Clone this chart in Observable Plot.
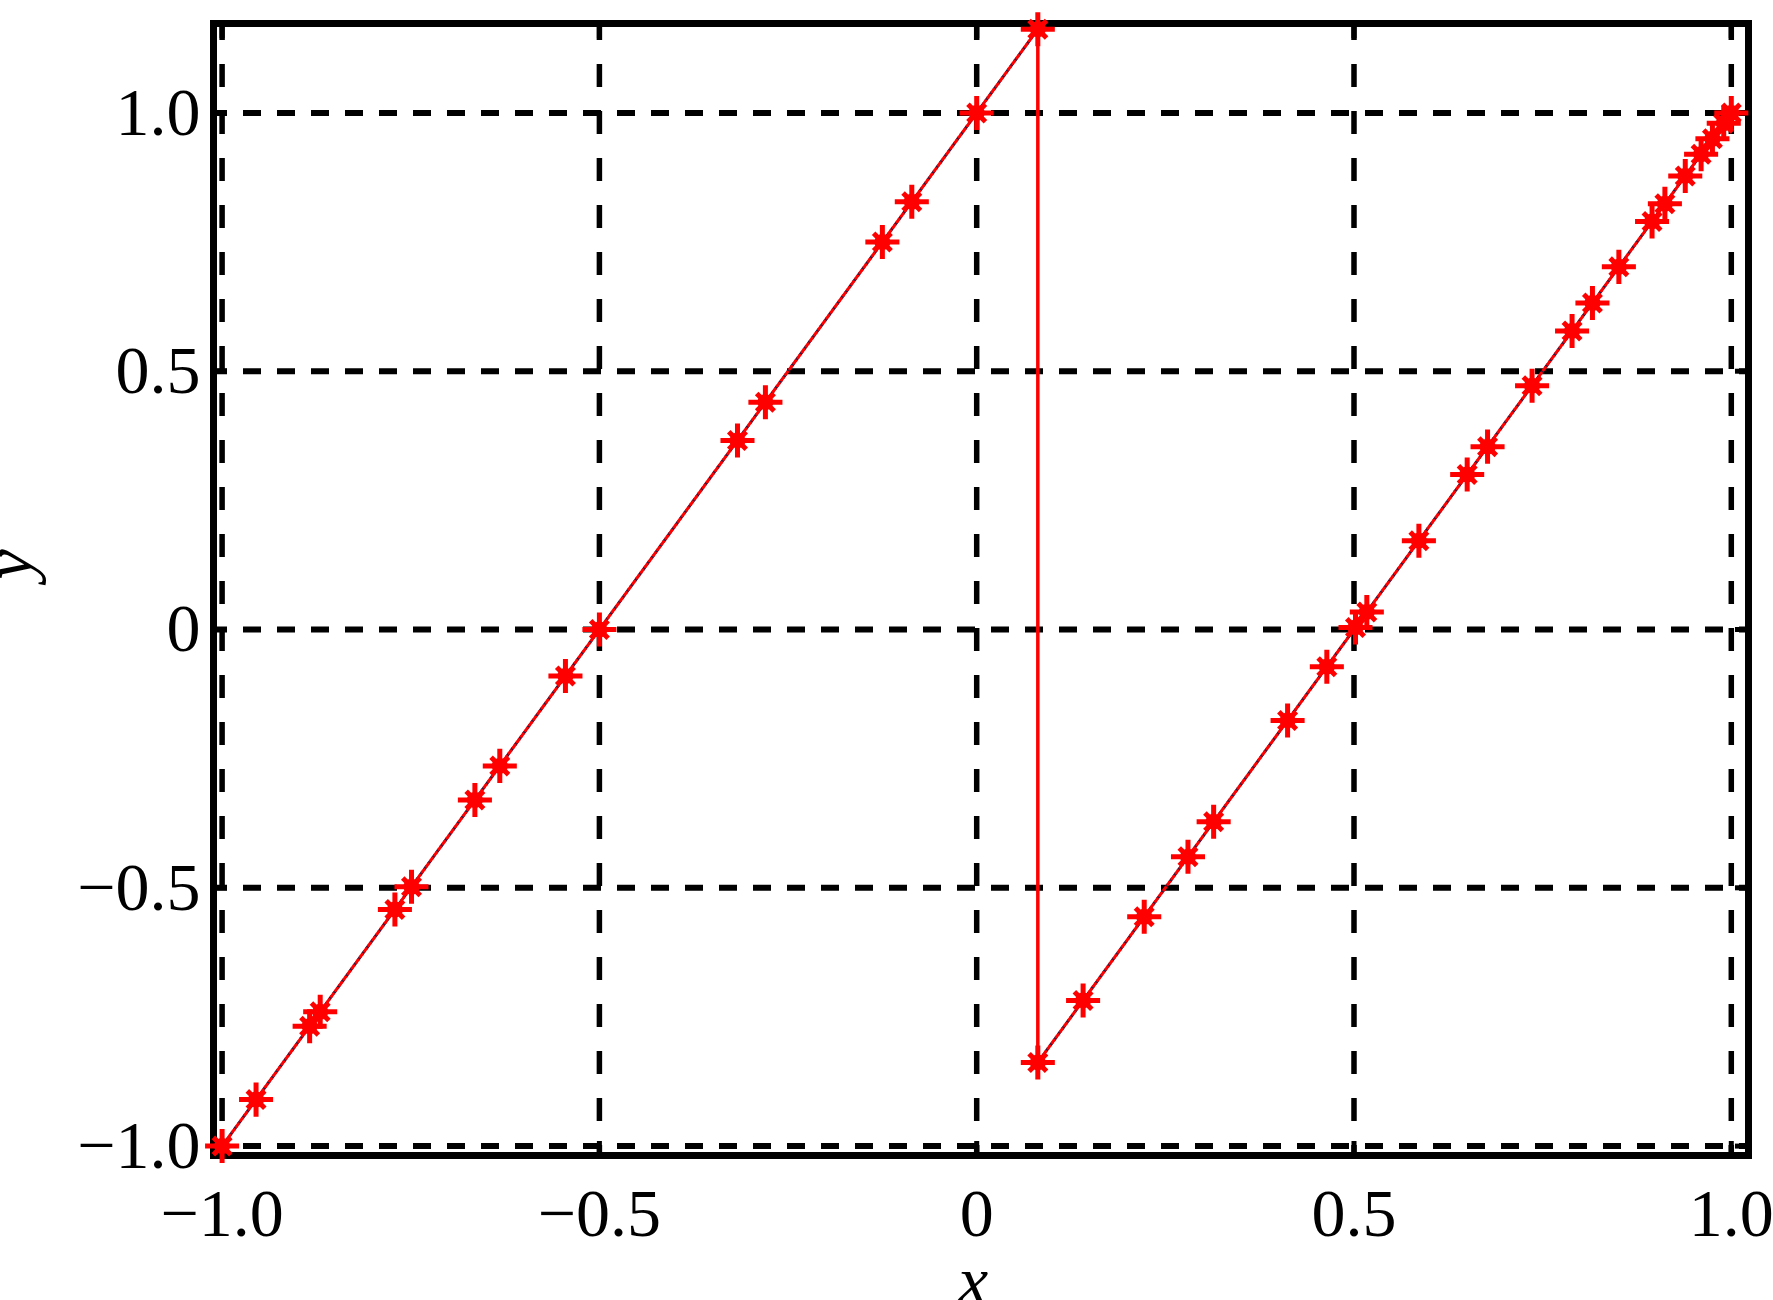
<!DOCTYPE html>
<html>
<head>
<meta charset="utf-8">
<script src="https://cdn.jsdelivr.net/npm/d3@7"></script>
<script src="https://cdn.jsdelivr.net/npm/@observablehq/plot@0.6"></script>
<style>
  html, body { margin: 0; padding: 0; background: #ffffff; }
  #chart svg { display: block; }
</style>
</head>
<body>
<div id="chart"></div>
<script>
// ---- data ----
const xTicks = [-1, -0.5, 0, 0.5, 1];
const xTickLabels = ["−1.0", "−0.5", "0", "0.5", "1.0"];
const yTicks = [-1, -0.5, 0, 0.5, 1];
const yTickLabels = ["−1.0", "−0.5", "0", "0.5", "1.0"];

// left branch (markers along the line)
const leftX = [-1.0, -0.955, -0.884, -0.870, -0.771, -0.749, -0.665, -0.632, -0.545, -0.5, -0.317, -0.280, -0.125, -0.086, 0.0, 0.081];
const leftY = [-1.0, -0.91, -0.768, -0.74, -0.542, -0.498, -0.33, -0.264, -0.09, 0.0, 0.366, 0.44, 0.75, 0.828, 1.0, 1.162];

// right branch
const rightX = [0.081, 0.141, 0.222, 0.280, 0.314, 0.412, 0.464, 0.502, 0.517, 0.586, 0.650, 0.677, 0.736, 0.789, 0.816, 0.851, 0.895, 0.912, 0.939, 0.960, 0.975, 0.990, 1.0];
const rightY = [-0.838, -0.718, -0.556, -0.44, -0.372, -0.176, -0.072, 0.004, 0.034, 0.172, 0.30, 0.354, 0.472, 0.578, 0.632, 0.702, 0.79, 0.824, 0.878, 0.92, 0.95, 0.98, 1.0];

// jump (discontinuity)
const jumpX = [0.081];
const jumpTop = [1.162];
const jumpBottom = [-0.838];

// ---- build tables ----
const left = leftX.map((x, i) => ({x, y: leftY[i]}));
const right = rightX.map((x, i) => ({x, y: rightY[i]}));
const allPts = left.concat(right);
const jump = jumpX.map((x, i) => ({x, y1: jumpTop[i], y2: jumpBottom[i]}));

const FONT = "'Liberation Serif', 'Times New Roman', 'DejaVu Serif', serif";
const RED = "#ff0000";
const DARK = "#3a1238";
const blank = () => "";

const branchLine = (data) => [
  Plot.line(data, {x: "x", y: "y", stroke: DARK, strokeWidth: 3, strokeDasharray: "3,4"}),
  Plot.line(data, {x: "x", y: "y", stroke: RED, strokeWidth: 3, strokeDasharray: "3,4", strokeDashoffset: 3.5})
];

const chart = Plot.plot({
  width: 1773,
  height: 1300,
  marginLeft: 213,
  marginRight: 25,
  marginTop: 23,
  marginBottom: 145,
  style: {background: "#ffffff", fontFamily: FONT, fontSize: "68px", color: "#000"},
  x: {domain: [-1.0114, 1.0228]},
  y: {domain: [-1.0182, 1.1731]},
  marks: [
    // dashed grid
    Plot.ruleX(xTicks, {stroke: "#000", strokeWidth: 5.5, strokeDasharray: "23,24", strokeDashoffset: 6}),
    Plot.ruleY(yTicks, {stroke: "#000", strokeWidth: 6, strokeDasharray: "18,16", strokeDashoffset: 4}),
    // inward ticks (no text)
    Plot.axisX({anchor: "bottom", ticks: xTicks, tickSize: -14, tickFormat: blank, label: null, strokeWidth: 5}),
    Plot.axisX({anchor: "top", ticks: xTicks, tickSize: -14, tickFormat: blank, label: null, strokeWidth: 5}),
    Plot.axisY({anchor: "left", ticks: yTicks, tickSize: -14, tickFormat: blank, label: null, strokeWidth: 5}),
    Plot.axisY({anchor: "right", ticks: yTicks, tickSize: -14, tickFormat: blank, label: null, strokeWidth: 5}),
    // tick labels
    Plot.axisX({anchor: "bottom", ticks: xTicks, tickSize: 0, tickPadding: 32, label: null,
      tickFormat: (d) => xTickLabels[xTicks.indexOf(d)], fontSize: 68}),
    Plot.axisY({anchor: "left", ticks: yTicks, tickSize: 0, tickPadding: 13, label: null,
      tickFormat: (d) => yTickLabels[yTicks.indexOf(d)], fontSize: 68}),
    // frame
    Plot.frame({stroke: "#000", strokeWidth: 7}),
    // function branches
    ...branchLine(left),
    ...branchLine(right),
    // vertical jump
    Plot.ruleX(jump, {x: "x", y1: "y1", y2: "y2", stroke: RED, strokeWidth: 3.5}),
    // star markers
    Plot.dot(allPts, {x: "x", y: "y", r: 8, fill: RED, stroke: "none"}),
    Plot.dot(allPts, {x: "x", y: "y", r: 11, symbol: "plus", stroke: RED, strokeWidth: 5}),
    Plot.dot(allPts, {x: "x", y: "y", r: 8, symbol: "times", stroke: RED, strokeWidth: 5}),
    // axis titles
    Plot.text(["x"], {frameAnchor: "bottom", dx: -8, dy: 147, text: d => d,
      fontSize: 68, fontStyle: "italic", fontFamily: FONT, fill: "#000"}),
    Plot.text(["y"], {frameAnchor: "left", dx: -203, dy: -10, rotate: -90, text: d => d,
      fontSize: 68, fontStyle: "italic", fontFamily: FONT, fill: "#000"})
  ]
});

document.getElementById("chart").appendChild(chart);
</script>
</body>
</html>
